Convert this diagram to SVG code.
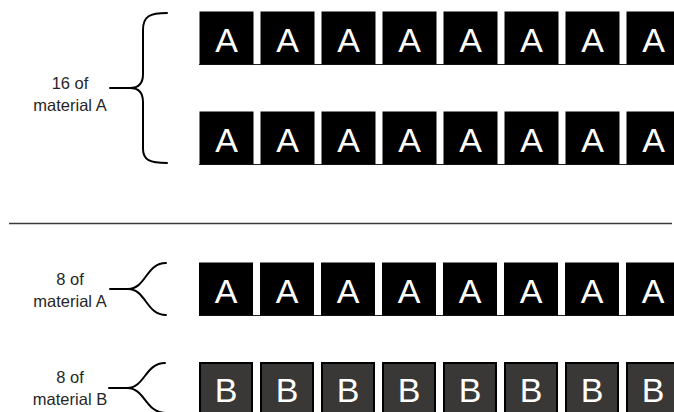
<svg xmlns="http://www.w3.org/2000/svg" width="674" height="412" viewBox="0 0 674 412">
  <style>
    .label { font-family: "Liberation Sans", Arial, sans-serif; font-size: 16.5px; fill: #262626; text-anchor: middle; }
    .tile-a { fill: #000; }
    .tile-b { fill: #3a3836; stroke: #000; stroke-width: 2; }
    .glyph { font-family: "Liberation Sans", Arial, sans-serif; font-size: 34px; fill: #fff; text-anchor: middle; }
    .brace { fill: none; stroke: #000; stroke-width: 2; stroke-linecap: round; }
    .rule { stroke: #3a3a3a; stroke-width: 1.5; }
    .base { stroke: #222; stroke-width: 1.2; }
  </style>
  <defs>
    <g id="tileA">
      <rect class="tile-a" x="0" y="0" width="54" height="53"/>
      <text class="glyph" x="27" y="40">A</text>
    </g>
    <g id="tileB">
      <rect class="tile-b" x="1" y="1" width="52" height="60"/>
      <text class="glyph" x="27" y="40">B</text>
    </g>
  </defs>

  <!-- labels -->
  <g id="label-16A">
    <text class="label" x="70" y="89">16 of</text>
    <text class="label" x="70" y="111">material A</text>
  </g>
  <g id="label-8A">
    <text class="label" x="70" y="285">8 of</text>
    <text class="label" x="70" y="307">material A</text>
  </g>
  <g id="label-8B">
    <text class="label" x="70" y="383">8 of</text>
    <text class="label" x="70" y="405">material B</text>
  </g>

  <!-- braces and leader lines -->
  <g id="connectors">
    <path class="brace" d="M167,13 C150,13 143,16 143,30 L143,74 C143,84 138,88 130,88 C138,88 143,92 143,102 L143,149 C143,160 150,163 167,163"/>
    <line class="brace" x1="110" y1="88" x2="130" y2="88"/>
    <path class="brace" d="M166,263 C146,263 146,289 128,289 C146,289 146,315 166,315"/>
    <line class="brace" x1="110" y1="289" x2="128" y2="289"/>
    <path class="brace" d="M165,363 C145,363 145,388 127,388 C145,388 145,412 165,413"/>
    <line class="brace" x1="109" y1="388" x2="127" y2="388"/>
  </g>

  <!-- divider -->
  <line class="rule" x1="9" y1="223.5" x2="672" y2="223.5"/>

  <!-- row 1: material A -->
  <g id="row1">
    <line class="base" x1="199" y1="64.5" x2="674" y2="64.5"/>
    <use href="#tileA" x="199.5" y="11.5"/>
    <use href="#tileA" x="260.5" y="11.5"/>
    <use href="#tileA" x="321.5" y="11.5"/>
    <use href="#tileA" x="382.5" y="11.5"/>
    <use href="#tileA" x="443.5" y="11.5"/>
    <use href="#tileA" x="504.5" y="11.5"/>
    <use href="#tileA" x="565.5" y="11.5"/>
    <use href="#tileA" x="626.5" y="11.5"/>
  </g>

  <!-- row 2: material A -->
  <g id="row2">
    <line class="base" x1="199" y1="164.5" x2="674" y2="164.5"/>
    <use href="#tileA" x="199.5" y="111.5"/>
    <use href="#tileA" x="260.5" y="111.5"/>
    <use href="#tileA" x="321.5" y="111.5"/>
    <use href="#tileA" x="382.5" y="111.5"/>
    <use href="#tileA" x="443.5" y="111.5"/>
    <use href="#tileA" x="504.5" y="111.5"/>
    <use href="#tileA" x="565.5" y="111.5"/>
    <use href="#tileA" x="626.5" y="111.5"/>
  </g>

  <!-- row 3: material A -->
  <g id="row3">
    <line class="base" x1="199" y1="315.5" x2="674" y2="315.5"/>
    <use href="#tileA" x="199" y="262.5"/>
    <use href="#tileA" x="260" y="262.5"/>
    <use href="#tileA" x="321" y="262.5"/>
    <use href="#tileA" x="382" y="262.5"/>
    <use href="#tileA" x="443" y="262.5"/>
    <use href="#tileA" x="504" y="262.5"/>
    <use href="#tileA" x="565" y="262.5"/>
    <use href="#tileA" x="626" y="262.5"/>
  </g>

  <!-- row 4: material B -->
  <g id="row4">
    <use href="#tileB" x="199" y="362"/>
    <use href="#tileB" x="260" y="362"/>
    <use href="#tileB" x="321" y="362"/>
    <use href="#tileB" x="382" y="362"/>
    <use href="#tileB" x="443" y="362"/>
    <use href="#tileB" x="504" y="362"/>
    <use href="#tileB" x="565" y="362"/>
    <use href="#tileB" x="626" y="362"/>
  </g>
</svg>
